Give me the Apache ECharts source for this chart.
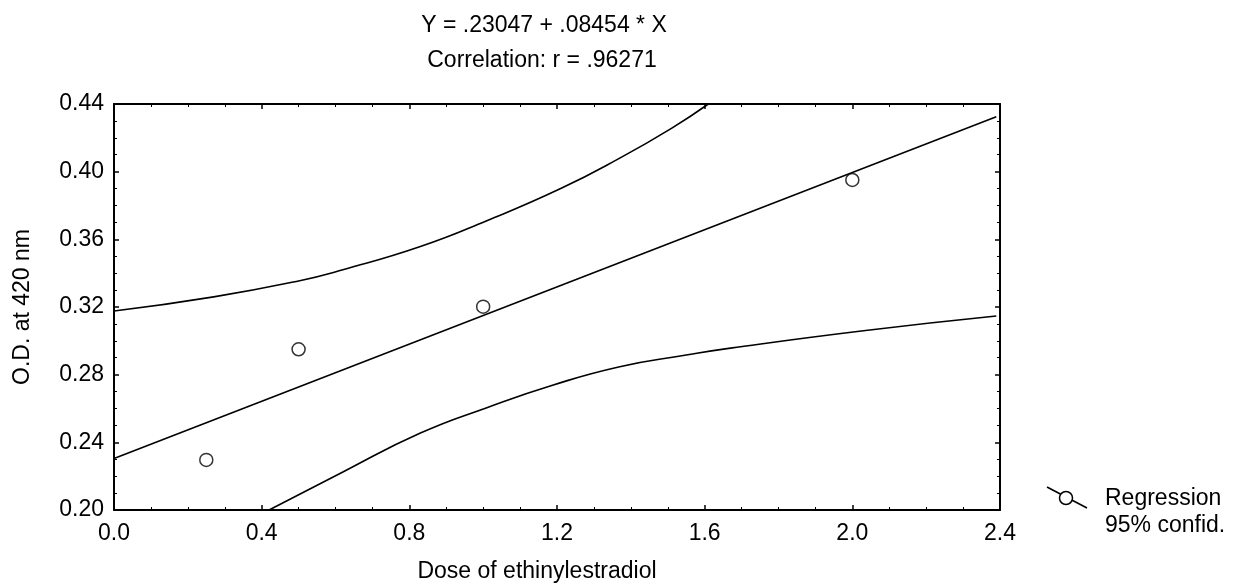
<!DOCTYPE html>
<html>
<head>
<meta charset="utf-8">
<script src="https://cdn.jsdelivr.net/npm/echarts@6/dist/echarts.min.js"></script>
<style>
  html, body { margin: 0; padding: 0; background: #fff; }
  #chart { width: 1241px; height: 588px; }
</style>
</head>
<body>
<div id="chart"></div>
<script>
// observed points (dose, O.D.)
var points = [[0.25, 0.2296], [0.5, 0.295], [1.0, 0.3202], [2.0, 0.3951]];
// regression line end points
var regLine = [[0, 0.2305], [2.39, 0.4325]];
// 95% confidence band
var upperBand = [[0, 0.3176], [0.27, 0.326], [0.5, 0.3354], [0.62, 0.342], [0.83, 0.3557],
  [1.01, 0.371], [1.21, 0.390], [1.37, 0.408], [1.51, 0.4256], [1.61, 0.44]];
var lowerBand = [[0.42, 0.20], [0.62, 0.2225], [0.83, 0.2455], [1.01, 0.2605], [1.19, 0.2739],
  [1.37, 0.2847], [1.55, 0.2916], [1.67, 0.2957], [2.03, 0.306], [2.39, 0.3147]];

var titleLines = ['Y = .23047 + .08454 * X', 'Correlation: r = .96271'];
var legendLines = ['Regression', '95% confid.'];

var FONT = 'Arial, "Liberation Sans", sans-serif';
var FS = 23;
var myChart = echarts.init(document.getElementById('chart'));

function axisBase(show) {
  return {
    type: 'value',
    axisLine: { show: true, onZero: false, lineStyle: { color: '#000', width: 2 } },
    axisTick: { show: true, inside: true, length: 5, lineStyle: { color: '#000', width: 1.5 } },
    minorTick: { show: true, splitNumber: 4, length: 3, lineStyle: { color: '#000', width: 1 } },
    splitLine: { show: false },
    axisLabel: { show: show, color: '#000', fontSize: FS, fontFamily: FONT }
  };
}

var xBottom = axisBase(true);
xBottom.min = 0; xBottom.max = 2.4; xBottom.interval = 0.4;
xBottom.axisLabel.margin = 12;
xBottom.axisLabel.formatter = function (v) { return v.toFixed(1); };
xBottom.name = 'Dose of ethinylestradiol';
xBottom.nameLocation = 'middle';
xBottom.nameGap = 50;
xBottom.nameTextStyle = { color: '#000', fontSize: FS, fontFamily: FONT, padding: [0, 40, 0, 0] };

var xTop = axisBase(false);
xTop.position = 'top';
xTop.min = 0; xTop.max = 2.4; xTop.interval = 0.4;

var yLeft = axisBase(true);
yLeft.min = 0.2; yLeft.max = 0.44; yLeft.interval = 0.04;
yLeft.axisLabel.margin = 10;
yLeft.axisLabel.formatter = function (v) { return v.toFixed(2); };
yLeft.name = 'O.D. at 420 nm';
yLeft.nameLocation = 'middle';
yLeft.nameGap = 80;
yLeft.nameTextStyle = { color: '#000', fontSize: FS, fontFamily: FONT };

var yRight = axisBase(false);
yRight.position = 'right';
yRight.min = 0.2; yRight.max = 0.44; yRight.interval = 0.04;

var curveStyle = { color: '#000', width: 1.6 };

var option = {
  backgroundColor: '#fff',
  animation: false,
  grid: { left: 114, top: 104, right: 241, bottom: 78, containLabel: false },
  xAxis: [xBottom, xTop],
  yAxis: [yLeft, yRight],
  graphic: [
    { type: 'text', x: 544, y: 26, style: { text: titleLines[0], font: FS + 'px ' + FONT, fill: '#000', textAlign: 'center', textVerticalAlign: 'middle' } },
    { type: 'text', x: 542, y: 61, style: { text: titleLines[1], font: FS + 'px ' + FONT, fill: '#000', textAlign: 'center', textVerticalAlign: 'middle' } },
    { type: 'line', shape: { x1: 1047, y1: 487, x2: 1087, y2: 508 }, style: { stroke: '#000', lineWidth: 1.6 } },
    { type: 'circle', shape: { cx: 1066, cy: 498, r: 6.5 }, style: { fill: '#fff', stroke: '#000', lineWidth: 1.5 } },
    { type: 'text', x: 1105, y: 499, style: { text: legendLines[0], font: FS + 'px ' + FONT, fill: '#000', textAlign: 'left', textVerticalAlign: 'middle' } },
    { type: 'text', x: 1105, y: 526, style: { text: legendLines[1], font: FS + 'px ' + FONT, fill: '#000', textAlign: 'left', textVerticalAlign: 'middle' } }
  ],
  series: [
    {
      name: 'Regression', type: 'line', data: regLine, showSymbol: false,
      lineStyle: curveStyle, z: 3
    },
    {
      name: 'Upper 95%', type: 'line', data: upperBand, showSymbol: false,
      smooth: 0.5, lineStyle: curveStyle, z: 3
    },
    {
      name: 'Lower 95%', type: 'line', data: lowerBand, showSymbol: false,
      smooth: 0.5, lineStyle: curveStyle, z: 3
    },
    {
      name: 'Data', type: 'scatter', data: points, symbol: 'circle', symbolSize: 13,
      itemStyle: { color: '#fff', borderColor: '#000', borderWidth: 1.5 }, z: 4
    }
  ]
};

myChart.setOption(option);
</script>
</body>
</html>
